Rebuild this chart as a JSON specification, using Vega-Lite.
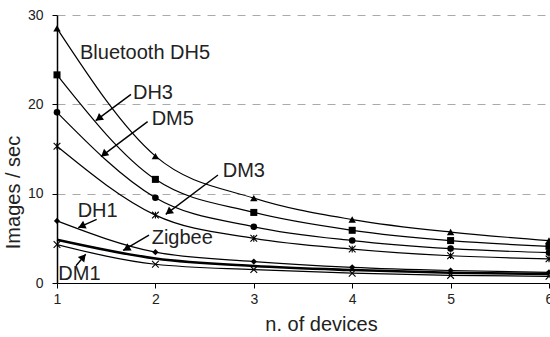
{
  "$schema": "https://vega.github.io/schema/vega-lite/v6.json",
  "width": 492,
  "height": 268,
  "autosize": {"type": "none"},
  "padding": {"left": 57, "top": 15, "right": 1, "bottom": 54},
  "config": {"view": {"stroke": null}, "font": "Liberation Sans"},
  "resolve": {"scale": {"shape": "independent", "size": "independent"}},
  "datasets": {
    "series": [
      {"series": "DH5", "n": 1, "v": 28.5}, {"series": "DH5", "n": 2, "v": 14.2}, {"series": "DH5", "n": 3, "v": 9.5},
      {"series": "DH5", "n": 4, "v": 7.1}, {"series": "DH5", "n": 5, "v": 5.7}, {"series": "DH5", "n": 6, "v": 4.75},
      {"series": "DH3", "n": 1, "v": 23.3}, {"series": "DH3", "n": 2, "v": 11.6}, {"series": "DH3", "n": 3, "v": 7.9},
      {"series": "DH3", "n": 4, "v": 5.9}, {"series": "DH3", "n": 5, "v": 4.75}, {"series": "DH3", "n": 6, "v": 4.1},
      {"series": "DM5", "n": 1, "v": 19.1}, {"series": "DM5", "n": 2, "v": 9.55}, {"series": "DM5", "n": 3, "v": 6.3},
      {"series": "DM5", "n": 4, "v": 4.75}, {"series": "DM5", "n": 5, "v": 3.85}, {"series": "DM5", "n": 6, "v": 3.4},
      {"series": "DM3", "n": 1, "v": 15.3}, {"series": "DM3", "n": 2, "v": 7.6}, {"series": "DM3", "n": 3, "v": 5.0},
      {"series": "DM3", "n": 4, "v": 3.8}, {"series": "DM3", "n": 5, "v": 3.05}, {"series": "DM3", "n": 6, "v": 2.7},
      {"series": "DH1", "n": 1, "v": 6.95}, {"series": "DH1", "n": 2, "v": 3.45}, {"series": "DH1", "n": 3, "v": 2.4},
      {"series": "DH1", "n": 4, "v": 1.75}, {"series": "DH1", "n": 5, "v": 1.4}, {"series": "DH1", "n": 6, "v": 1.2},
      {"series": "Zigbee", "n": 1, "v": 4.85}, {"series": "Zigbee", "n": 2, "v": 2.75}, {"series": "Zigbee", "n": 3, "v": 1.9},
      {"series": "Zigbee", "n": 4, "v": 1.45}, {"series": "Zigbee", "n": 5, "v": 1.15}, {"series": "Zigbee", "n": 6, "v": 1.0},
      {"series": "DM1", "n": 1, "v": 4.3}, {"series": "DM1", "n": 2, "v": 2.1}, {"series": "DM1", "n": 3, "v": 1.5},
      {"series": "DM1", "n": 4, "v": 1.1}, {"series": "DM1", "n": 5, "v": 0.85}, {"series": "DM1", "n": 6, "v": 0.75}
    ],
    "labels": [
      {"text": "Bluetooth DH5", "n": 1.234, "v": 25.04},
      {"text": "DH3", "n": 1.772, "v": 20.56},
      {"text": "DM5", "n": 1.962, "v": 17.69},
      {"text": "DM3", "n": 2.684, "v": 11.87},
      {"text": "DH1", "n": 1.21, "v": 7.42},
      {"text": "Zigbee", "n": 1.962, "v": 4.37},
      {"text": "DM1", "n": 1.013, "v": 0.336}
    ],
    "arrows": [
      {"name": "DH3", "n1": 1.752, "v1": 21.12, "n2": 1.393, "v2": 18.17, "hn": 1.423, "hv": 18.41, "angle": 233},
      {"name": "DM5", "n1": 1.921, "v1": 18.06, "n2": 1.447, "v2": 14.14, "hn": 1.476, "hv": 14.4, "angle": 231},
      {"name": "DM3", "n1": 2.636, "v1": 12.09, "n2": 2.105, "v2": 7.68, "hn": 2.134, "hv": 7.94, "angle": 233},
      {"name": "DH1", "n1": 1.403, "v1": 7.13, "n2": 1.216, "v2": 6.19, "hn": 1.25, "hv": 6.36, "angle": 245},
      {"name": "Zigbee", "n1": 1.935, "v1": 5.37, "n2": 1.671, "v2": 3.66, "hn": 1.705, "hv": 3.83, "angle": 239},
      {"name": "DM1", "n1": 1.193, "v1": 1.94, "n2": 1.292, "v2": 3.21, "hn": 1.268, "hv": 2.91, "angle": 40}
    ]
  },
  "layer": [
    {
      "data": {"name": "series"},
      "transform": [{"filter": "datum.series !== 'Zigbee'"}],
      "mark": {"type": "line", "interpolate": "monotone", "color": "black", "strokeWidth": 1.2},
      "encoding": {
        "x": {
          "field": "n", "type": "quantitative", "title": "n. of devices",
          "scale": {"domain": [1, 6], "nice": false, "zero": false},
          "axis": {
            "values": [1, 2, 3, 4, 5, 6], "grid": false, "format": "d",
            "domainColor": "black", "domainWidth": 1.2, "tickColor": "black", "tickSize": 5,
            "labelFontSize": 14, "labelColor": "#222", "labelPadding": 4,
            "labelFlush": false, "labelOverlap": false, "labelBound": false,
            "titleFontSize": 20, "titleFontWeight": "normal", "titleColor": "#222",
            "titleX": 264, "titleY": 47, "titleAlign": "center", "titleBaseline": "alphabetic"
          }
        },
        "y": {
          "field": "v", "type": "quantitative", "title": "Images / sec",
          "scale": {"domain": [0, 30], "nice": false},
          "axis": {
            "values": [0, 10, 20, 30], "grid": true, "gridColor": "#aaa", "gridDash": [8, 7], "gridWidth": 1,
            "domainColor": "black", "domainWidth": 1.5, "tickColor": "black", "tickSize": 5,
            "labelFontSize": 14, "labelColor": "#222", "labelPadding": 9, "labelFlush": false,
            "titleFontSize": 20, "titleFontWeight": "normal", "titleColor": "#222",
            "titleX": -38, "titleY": 177, "titleAngle": -90, "titleAlign": "center", "titleBaseline": "alphabetic"
          }
        },
        "detail": {"field": "series"}
      }
    },
    {
      "data": {"name": "series"},
      "transform": [{"filter": "datum.series === 'Zigbee'"}],
      "mark": {"type": "line", "interpolate": "monotone", "color": "black", "strokeWidth": 2.6},
      "encoding": {
        "x": {"field": "n", "type": "quantitative", "title": "n. of devices"},
        "y": {"field": "v", "type": "quantitative", "title": "Images / sec"}
      }
    },
    {
      "data": {"name": "series"},
      "transform": [{"filter": {"field": "series", "oneOf": ["DH5", "DH3", "DM5", "DH1"]}}],
      "mark": {"type": "point", "filled": true, "color": "black", "opacity": 1},
      "encoding": {
        "x": {"field": "n", "type": "quantitative", "title": "n. of devices"},
        "y": {"field": "v", "type": "quantitative", "title": "Images / sec"},
        "shape": {
          "field": "series", "type": "nominal", "legend": null,
          "scale": {"domain": ["DH5", "DH3", "DM5", "DH1"], "range": ["triangle-up", "square", "circle", "diamond"]}
        },
        "size": {
          "field": "series", "type": "nominal", "legend": null,
          "scale": {"domain": ["DH5", "DH3", "DM5", "DH1"], "range": [55, 38, 38, 50]}
        }
      }
    },
    {
      "data": {"name": "series"},
      "transform": [{"filter": {"field": "series", "oneOf": ["DM3", "DM1"]}}],
      "mark": {"type": "point", "filled": false, "color": "black", "opacity": 1, "strokeWidth": 1.1, "size": 45},
      "encoding": {
        "x": {"field": "n", "type": "quantitative", "title": "n. of devices"},
        "y": {"field": "v", "type": "quantitative", "title": "Images / sec"},
        "shape": {
          "field": "series", "type": "nominal", "legend": null,
          "scale": {"domain": ["DM3", "DM1"], "range": ["M-1,-1L1,1M-1,1L1,-1M0,-1L0,1", "M-1,-1L1,1M-1,1L1,-1"]}
        }
      }
    },
    {
      "data": {"name": "arrows"},
      "mark": {"type": "rule", "color": "black", "strokeWidth": 1.4},
      "encoding": {
        "x": {"field": "n1", "type": "quantitative", "title": "n. of devices"},
        "y": {"field": "v1", "type": "quantitative", "title": "Images / sec"},
        "x2": {"field": "n2"},
        "y2": {"field": "v2"}
      }
    },
    {
      "data": {"name": "arrows"},
      "mark": {"type": "point", "shape": "triangle-up", "filled": true, "color": "black", "opacity": 1, "size": 70},
      "encoding": {
        "x": {"field": "hn", "type": "quantitative", "title": "n. of devices"},
        "y": {"field": "hv", "type": "quantitative", "title": "Images / sec"},
        "angle": {"field": "angle", "type": "quantitative", "scale": null}
      }
    },
    {
      "data": {"name": "labels"},
      "mark": {"type": "text", "align": "left", "baseline": "alphabetic", "fontSize": 20, "color": "#222"},
      "encoding": {
        "x": {"field": "n", "type": "quantitative", "title": "n. of devices"},
        "y": {"field": "v", "type": "quantitative", "title": "Images / sec"},
        "text": {"field": "text"}
      }
    }
  ]
}
